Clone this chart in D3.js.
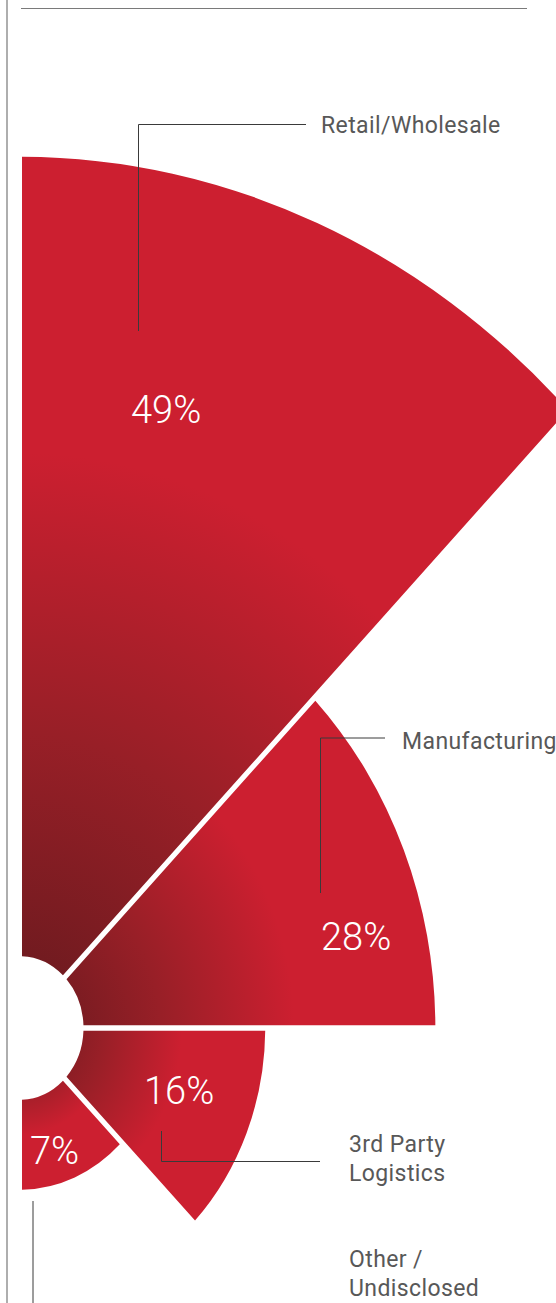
<!DOCTYPE html>
<html>
<head>
<meta charset="utf-8">
<script src="https://cdn.jsdelivr.net/npm/d3@7"></script>
<style>
  html, body { margin: 0; padding: 0; background: #fff; }
  svg { display: block; }
</style>
</head>
<body>
<svg id="chart" width="556" height="1303"></svg>
<script>
// ---- data ----
const categories = ["Retail/Wholesale", "Manufacturing", "3rd Party Logistics", "Other / Undisclosed"];
const shares = [49, 28, 16, 7];
const shareLabels = ["49%", "28%", "16%", "7%"];
const nameLines = [["Retail/Wholesale"], ["Manufacturing"], ["3rd Party", "Logistics"], ["Other /", "Undisclosed"]];

// ---- layout ----
const W = 556, H = 1303;
const cx = 19.5, cy = 1028;     // hub of the half rose
const squash = 1.12;            // vertical stretch of the rose
const innerR = 64;              // white hub radius
const gapPx = 5;                // white gap between petals
const red = "#cc1f30", darkRed = "#721b20";

const rows = categories.map((c, i) => ({ cat: c, value: shares[i], label: shareLabels[i], lines: nameLines[i], i }));

const angle = d3.scaleBand().domain(categories).range([0, Math.PI]);
const radius = d3.scalePow().exponent(1.35).domain([0, 49]).range([95, 778]);

const arc = d3.arc()
  .innerRadius(innerR)
  .outerRadius(d => radius(d.value))
  .startAngle(d => angle(d.cat))
  .endAngle(d => angle(d.cat) + angle.bandwidth())
  .padRadius(100)
  .padAngle(gapPx / 100);

const svg = d3.select("#chart");
const defs = svg.append("defs");

// one radial shade per petal, dark at the hub and full red toward the rim
rows.forEach(d => {
  const g = defs.append("radialGradient")
    .attr("id", "petal-shade-" + d.i)
    .attr("gradientUnits", "userSpaceOnUse")
    .attr("cx", 0).attr("cy", 0).attr("r", radius(d.value));
  g.append("stop").attr("offset", 0.08).attr("stop-color", darkRed);
  g.append("stop").attr("offset", 0.34).attr("stop-color", "#981f27");
  g.append("stop").attr("offset", 0.66).attr("stop-color", red);
  g.append("stop").attr("offset", 1).attr("stop-color", red);
});

// frame rules
svg.append("line").attr("x1", 7).attr("x2", 7).attr("y1", 0).attr("y2", H)
  .attr("stroke", "#9a9a9a").attr("stroke-width", 1.6);
svg.append("line").attr("x1", 21).attr("x2", 527).attr("y1", 8.5).attr("y2", 8.5)
  .attr("stroke", "#7a7a7a").attr("stroke-width", 1);

// petals
const rose = svg.append("g").attr("transform", `translate(${cx},${cy}) scale(1,${squash})`);
rose.selectAll("path.petal")
  .data(rows)
  .join("path")
  .attr("class", "petal")
  .attr("d", arc)
  .attr("fill", d => `url(#petal-shade-${d.i})`);

// annotation placement
const leaderPaths = [
  "M138.5,331 V124.5 H306",
  "M320.5,893 V738 H385",
  "M161.5,1131 V1161.5 H320",
  "M33,1201 V1303"
];
const namePos = [[321, 133], [402, 749], [349, 1152], [349, 1267]];
const sharePos = [[131, 423], [321, 950], [144, 1104], [30, 1164]];

svg.append("g").selectAll("path")
  .data(rows)
  .join("path")
  .attr("d", d => leaderPaths[d.i])
  .attr("fill", "none")
  .attr("stroke", "#3a3a3a")
  .attr("stroke-width", 1);

svg.append("g").selectAll("text")
  .data(rows)
  .join("text")
  .attr("x", d => sharePos[d.i][0])
  .attr("y", d => sharePos[d.i][1])
  .attr("fill", "#fff")
  .attr("font-family", "Roboto, 'Open Sans', sans-serif")
  .attr("font-weight", 300)
  .attr("font-size", 38)
  .text(d => d.label);

const names = svg.append("g").selectAll("text")
  .data(rows)
  .join("text")
  .attr("x", d => namePos[d.i][0])
  .attr("y", d => namePos[d.i][1])
  .attr("fill", "#585858")
  .attr("font-family", "Roboto, 'Open Sans', sans-serif")
  .attr("font-size", 23)
  .attr("letter-spacing", 0.4);
names.selectAll("tspan")
  .data(d => d.lines.map((t, k) => ({ t, k, x: namePos[d.i][0] })))
  .join("tspan")
  .attr("x", d => d.x)
  .attr("dy", d => d.k === 0 ? 0 : 29)
  .text(d => d.t);
</script>
</body>
</html>
